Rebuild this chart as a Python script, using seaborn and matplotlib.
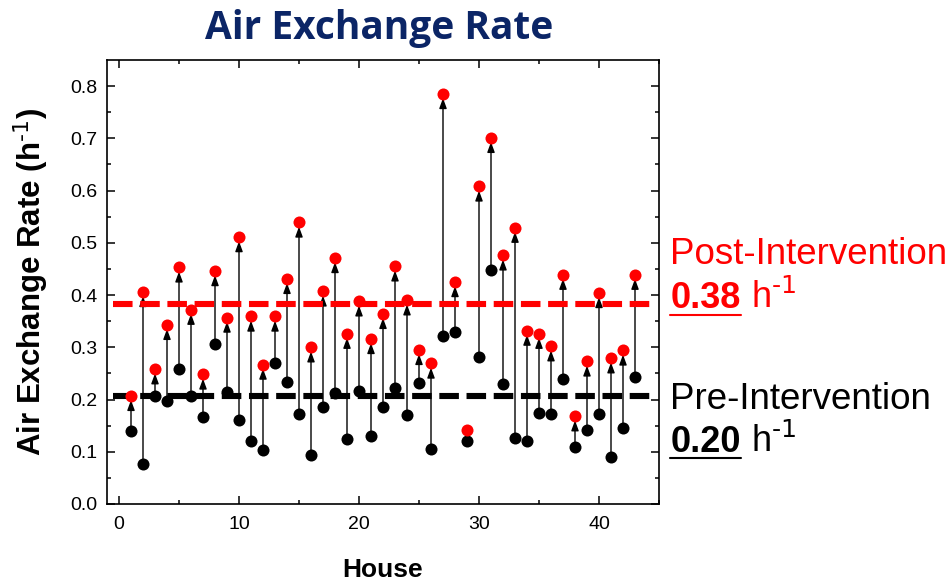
import matplotlib
matplotlib.use("Agg")
import matplotlib.pyplot as plt
import seaborn as sns
import pandas as pd
from matplotlib.lines import Line2D

# values
houses = list(range(1, 44))
pre = [0.140, 0.076, 0.207, 0.198, 0.258, 0.207, 0.167, 0.307, 0.214, 0.161,
       0.121, 0.104, 0.270, 0.233, 0.173, 0.093, 0.186, 0.212, 0.124, 0.216,
       0.130, 0.186, 0.223, 0.170, 0.232, 0.105, 0.321, 0.329, 0.121, 0.281,
       0.448, 0.230, 0.127, 0.121, 0.175, 0.172, 0.239, 0.109, 0.142, 0.172,
       0.090, 0.145, 0.244]
post = [0.207, 0.406, 0.258, 0.343, 0.453, 0.372, 0.248, 0.446, 0.357, 0.511,
        0.359, 0.267, 0.359, 0.431, 0.539, 0.300, 0.407, 0.471, 0.326, 0.388,
        0.316, 0.364, 0.455, 0.390, 0.295, 0.269, 0.785, 0.425, 0.142, 0.608,
        0.701, 0.476, 0.529, 0.332, 0.326, 0.302, 0.439, 0.168, 0.273, 0.404,
        0.279, 0.294, 0.439]
pre_mean = 0.207
post_mean = 0.382
pre_label = "0.20"
post_label = "0.38"

df = pd.DataFrame({"House": houses, "Pre": pre, "Post": post})

sns.set_style("ticks")
plt.rcParams["font.family"] = ["Liberation Sans", "DejaVu Sans"]
plt.rcParams["mathtext.default"] = "regular"
plt.rcParams["text.color"] = "black"
plt.rcParams["axes.labelcolor"] = "black"

W, H = 953, 581
fig = plt.figure(figsize=(W / 100, H / 100), dpi=100)
ax = fig.add_axes([107 / W, 1 - 504 / H, 552 / W, 444 / H])

# arrows pre -> post
for _, r in df.iterrows():
    ax.annotate("", xy=(r["House"], r["Post"]), xytext=(r["House"], r["Pre"]),
                arrowprops=dict(arrowstyle="-|>,head_length=0.6,head_width=0.22",
                                color="black", lw=1.0, shrinkA=0, shrinkB=3,
                                mutation_scale=10),
                zorder=2)

# mean lines
ax.axhline(post_mean, xmin=0.01, xmax=0.994, color="#FF0000", lw=4.4,
           dashes=(3.2, 1.25), zorder=3)
ax.axhline(pre_mean, xmin=0.01, xmax=0.994, color="black", lw=4.4,
           dashes=(3.2, 1.25), zorder=3)

sns.scatterplot(data=df, x="House", y="Pre", color="black", s=75,
                linewidth=0, ax=ax, zorder=4)
sns.scatterplot(data=df, x="House", y="Post", color="#FF0000", s=75,
                linewidth=0, ax=ax, zorder=5)

ax.set_xlim(-1, 45)
ax.set_ylim(0, 0.85)
ax.set_xticks([0, 10, 20, 30, 40])
ax.set_xticks([5, 15, 25, 35, 45], minor=True)
ax.set_yticks([0.0, 0.1, 0.2, 0.3, 0.4, 0.5, 0.6, 0.7, 0.8])
ax.set_yticks([0.05 + 0.1 * i for i in range(8)], minor=True)
ax.set_yticklabels(["0.0", "0.1", "0.2", "0.3", "0.4", "0.5", "0.6", "0.7", "0.8"])
ax.set_xlabel("")
ax.set_ylabel("")

for s in ax.spines.values():
    s.set_visible(True)
    s.set_linewidth(1.2)
    s.set_color("black")
ax.tick_params(which="both", direction="in", top=True, right=True,
               width=1.1, color="black", labelsize=14, labelcolor="black")
ax.tick_params(which="major", length=5.8)
ax.tick_params(which="minor", length=3)
ax.tick_params(axis="y", pad=7)
ax.tick_params(axis="x", pad=8.5)

# titles and labels
fig.text(379 / W, 1 - 39.5 / H, "Air Exchange Rate", ha="center", va="baseline",
         fontsize=28, fontweight="bold", color="#0B2566",
         family=["Open Sans", "DejaVu Sans"])
fig.text(383 / W, 1 - 577 / H, "House", ha="center", va="baseline",
         fontsize=19, fontweight="bold")
fig.text(31 / W, 1 - 282 / H, r"Air Exchange Rate (h$^{\text{-1}}$)", ha="center",
         va="center", rotation=90, fontsize=22.5, fontweight="bold")

# annotations on the right
fig.text(670.5 / W, 1 - 264.3 / H, "Post-Intervention", ha="left", va="baseline",
         fontsize=26.5, color="#FF0000")
fig.text(670.5 / W, 1 - 409.3 / H, "Pre-Intervention", ha="left", va="baseline",
         fontsize=26.5, color="black")

def value_line(label, base_y, color):
    t = fig.text(670.5 / W, 1 - base_y / H, label, ha="left", va="baseline",
                 fontsize=26, fontweight="bold", color=color)
    fig.canvas.draw()
    bb = t.get_window_extent()
    uy = (H - base_y - 6.4) / H
    fig.add_artist(Line2D([bb.x0 / W, bb.x1 / W], [uy, uy], lw=1.5, color=color,
                          transform=fig.transFigure))
    fig.text((bb.x1 + 10) / W, 1 - base_y / H, r"h$^{\text{-1}}$", ha="left",
             va="baseline", fontsize=26, color=color)

value_line(post_label, 308.3, "#FF0000")
value_line(pre_label, 451.7, "black")

fig.savefig("out.png", dpi=100)
